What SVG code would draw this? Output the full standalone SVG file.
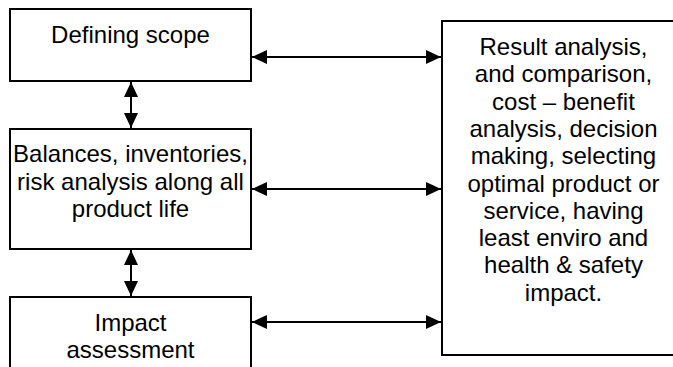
<svg xmlns="http://www.w3.org/2000/svg" width="673" height="367" viewBox="0 0 673 367">
<style>
.box{fill:#fff;stroke:#000;stroke-width:2}
.t{font-family:"Liberation Sans",Arial,sans-serif;font-size:24px;fill:#000;text-anchor:middle}
.c{stroke:#000;stroke-width:2;fill:none;marker-start:url(#ah);marker-end:url(#ah)}
</style>
<defs>
<marker id="ah" viewBox="0 0 15 14" refX="15" refY="7" markerWidth="15" markerHeight="14" markerUnits="userSpaceOnUse" orient="auto-start-reverse">
<path d="M0,0 L15,7 L0,14 z" fill="#000"/>
</marker>
</defs>
<rect width="673" height="367" fill="#fff"/>
<g id="scope">
<rect class="box" x="10" y="9" width="241" height="72"/>
<text class="t" x="130.5" y="43">Defining scope</text>
</g>
<g id="balances">
<rect class="box" x="10" y="129" width="241" height="120"/>
<text class="t" x="130.5" y="162">Balances, inventories,</text>
<text class="t" x="130.5" y="189.5">risk analysis along all</text>
<text class="t" x="130.5" y="217">product life</text>
</g>
<g id="impact">
<rect class="box" x="10" y="297" width="241" height="90"/>
<text class="t" x="130.5" y="330.5">Impact</text>
<text class="t" x="130.5" y="357.5">assessment</text>
</g>
<g id="result">
<rect class="box" x="442" y="21" width="243" height="334"/>
<text class="t" x="563.5" y="55">Result analysis,</text>
<text class="t" x="563.5" y="82.3">and comparison,</text>
<text class="t" x="563.5" y="109.6">cost – benefit</text>
<text class="t" x="563.5" y="136.9">analysis, decision</text>
<text class="t" x="563.5" y="164.2">making, selecting</text>
<text class="t" x="563.5" y="191.5">optimal product or</text>
<text class="t" x="563.5" y="218.8">service, having</text>
<text class="t" x="563.5" y="246.1">least enviro and</text>
<text class="t" x="563.5" y="273.4">health &amp; safety</text>
<text class="t" x="563.5" y="300.7">impact.</text>
</g>
<g id="connectors">
<line class="c" x1="252" y1="57" x2="441" y2="57"/>
<line class="c" x1="252" y1="189" x2="441" y2="189"/>
<line class="c" x1="252" y1="322" x2="441" y2="322"/>
<line class="c" x1="131" y1="82" x2="131" y2="128"/>
<line class="c" x1="131" y1="250" x2="131" y2="296"/>
</g>
</svg>
